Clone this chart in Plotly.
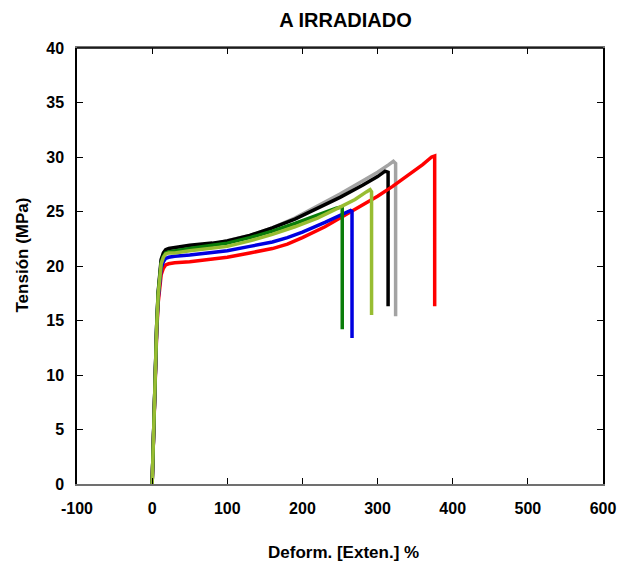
import plotly.graph_objects as go

# Strain (%) and stress (MPa) for each specimen
red_x = [0, 2, 4, 6, 8, 10, 12, 15, 18, 22, 30, 50, 80, 100, 130, 160, 180, 200, 230, 260, 280, 300, 320, 340, 360, 372, 376, 376]
red_y = [0, 5.0, 9.8, 13.8, 16.6, 18.3, 19.2, 19.8, 20.1, 20.2, 20.3, 20.4, 20.6, 20.8, 21.2, 21.6, 22.0, 22.6, 23.6, 24.8, 25.6, 26.4, 27.3, 28.3, 29.3, 30.0, 30.1, 16.3]

blue_x = [0, 2, 4, 6, 8, 10, 12, 15, 18, 22, 30, 50, 80, 100, 130, 160, 180, 200, 230, 255, 264, 266, 266]
blue_y = [0, 5.1, 10.0, 14.1, 17.0, 18.8, 19.8, 20.4, 20.7, 20.8, 20.9, 21.0, 21.2, 21.4, 21.8, 22.2, 22.6, 23.1, 24.0, 24.8, 25.1, 25.0, 13.4]

dgreen_x = [0, 2, 4, 6, 8, 10, 12, 15, 18, 22, 30, 50, 80, 100, 130, 160, 190, 220, 245, 251, 253, 253]
dgreen_y = [0, 5.2, 10.2, 14.4, 17.4, 19.3, 20.3, 20.9, 21.2, 21.3, 21.4, 21.6, 21.9, 22.1, 22.6, 23.2, 23.9, 24.7, 25.3, 25.4, 25.3, 14.2]

lgreen_x = [0, 2, 4, 6, 8, 10, 12, 15, 18, 22, 30, 50, 80, 100, 130, 160, 190, 220, 250, 270, 285, 290, 292, 292]
lgreen_y = [0, 5.2, 10.2, 14.3, 17.3, 19.2, 20.2, 20.8, 21.1, 21.2, 21.2, 21.4, 21.6, 21.8, 22.3, 22.9, 23.6, 24.4, 25.4, 26.1, 26.8, 27.0, 26.8, 15.5]

black_x = [0, 2, 4, 6, 8, 10, 12, 15, 18, 22, 30, 50, 80, 100, 130, 160, 190, 220, 250, 280, 300, 310, 314, 314]
black_y = [0, 5.2, 10.3, 14.5, 17.6, 19.5, 20.6, 21.2, 21.5, 21.6, 21.7, 21.9, 22.1, 22.3, 22.8, 23.5, 24.3, 25.3, 26.3, 27.4, 28.2, 28.7, 28.6, 16.3]

gray_x = [0, 2, 4, 6, 8, 10, 12, 15, 18, 22, 30, 50, 80, 100, 130, 160, 190, 220, 250, 280, 300, 315, 321, 324, 324]
gray_y = [0, 5.2, 10.3, 14.5, 17.5, 19.4, 20.5, 21.1, 21.4, 21.5, 21.6, 21.8, 22.0, 22.3, 22.8, 23.5, 24.4, 25.5, 26.6, 27.8, 28.6, 29.3, 29.6, 29.4, 15.4]

x_ticks = [-100, 0, 100, 200, 300, 400, 500, 600]
y_ticks = [0, 5, 10, 15, 20, 25, 30, 35, 40]

series = [
    (gray_x, gray_y, "#a3a3a3"),
    (black_x, black_y, "#000000"),
    (red_x, red_y, "#ff0000"),
    (blue_x, blue_y, "#0000e0"),
    (dgreen_x, dgreen_y, "#0a7d0a"),
    (lgreen_x, lgreen_y, "#98bd32"),
]

fig = go.Figure()
for xs, ys, c in series:
    fig.add_trace(go.Scatter(x=xs, y=ys, mode="lines",
                             line=dict(color=c, width=3.5), showlegend=False))

font = "Liberation Sans, Arial, sans-serif"
fig.update_layout(
    width=618, height=563,
    margin=dict(l=77, r=15, t=48, b=79),
    paper_bgcolor="white", plot_bgcolor="white",
    title=dict(text="<b>A IRRADIADO</b>", xref="container", x=345.5 / 618,
               xanchor="center", yref="container", y=1 - 20 / 563,
               yanchor="middle",
               font=dict(family=font, size=20, color="black")),
    font=dict(family=font, color="black"),
    xaxis=dict(range=[-100, 600], tickvals=x_ticks,
               ticktext=[f"<b>{v}</b>" for v in x_ticks],
               ticks="inside", ticklen=6, tickcolor="black",
               showline=True, linecolor="#707070", linewidth=1.5,
               mirror="allticks", showgrid=False, zeroline=False,
               tickfont=dict(size=16, family=font),
               ticklabelstandoff=9, automargin=False),
    yaxis=dict(range=[0, 40], tickvals=y_ticks,
               ticktext=[f"<b>{v}</b>" for v in y_ticks],
               ticks="inside", ticklen=6, tickcolor="black",
               showline=True, linecolor="black", linewidth=1.5,
               mirror="allticks", showgrid=False, zeroline=False,
               tickfont=dict(size=16, family=font),
               ticklabelstandoff=8, automargin=False),
)
fig.add_annotation(text="<b>Deform. [Exten.] %</b>", xref="paper", yref="paper",
                   x=(343 - 77) / 526, y=(484 - 552) / 436,
                   xanchor="center", yanchor="middle", showarrow=False,
                   font=dict(size=17, family=font, color="black"))
fig.add_annotation(text="<b>Tensión (MPa)</b>", xref="paper", yref="paper",
                   x=(21.5 - 77) / 526, y=(484 - 255) / 436, textangle=-90,
                   xanchor="center", yanchor="middle", showarrow=False,
                   font=dict(size=17, family=font, color="black"))
fig.add_shape(type="line", xref="paper", yref="paper", x0=0, x1=1, y0=1, y1=1,
              line=dict(color="black", width=1.5))
fig.write_html("out.html")
